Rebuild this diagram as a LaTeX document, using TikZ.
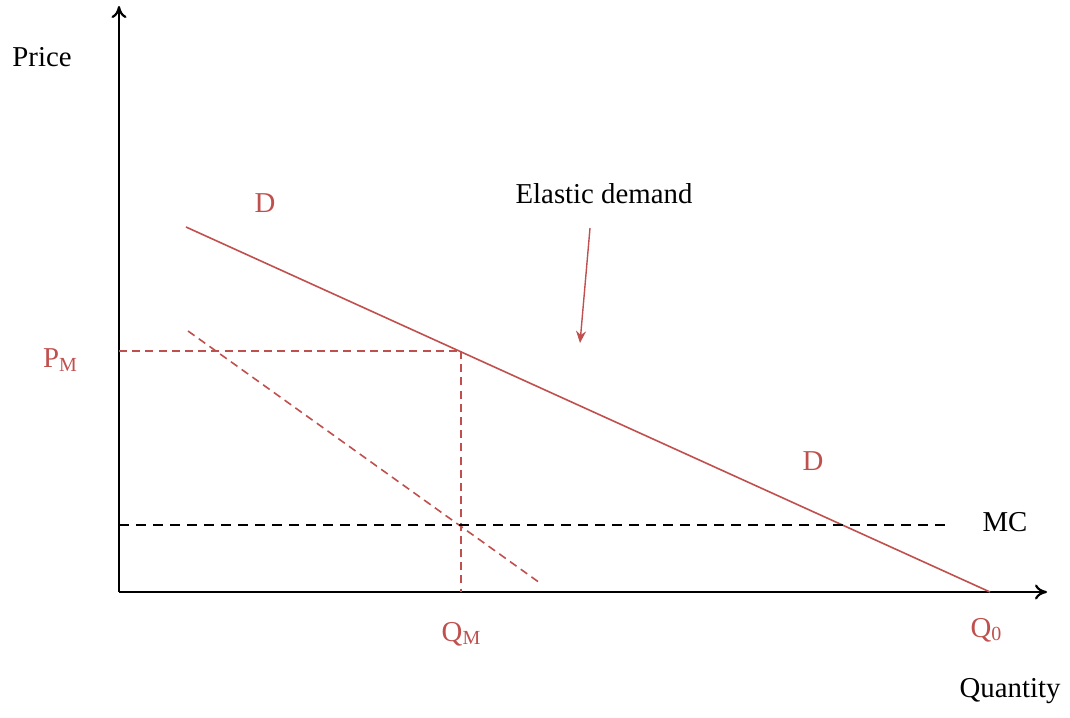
\documentclass[tikz,border=0pt]{standalone}
\usepackage{fontspec}
\setmainfont{Liberation Serif}
\usetikzlibrary{arrows.meta}
\definecolor{dred}{RGB}{192,80,77}
\newcommand{\sbs}[1]{\raisebox{-0.25ex}{\fontsize{10}{10}\selectfont #1}}
\tikzset{
  axis/.style={line width=1.1pt, -{To[length=6pt,width=7.5pt]}},
  lbl/.style={font=\fontsize{14.4}{16}\selectfont, inner sep=0pt},
  rlbl/.style={lbl, text=dred},
  demand/.style={dred, line width=0.8pt},
  rdash/.style={dred, line width=0.8pt, dash pattern=on 4pt off 2.6pt},
  kdash/.style={black, line width=0.9pt, dash pattern=on 5pt off 3.5pt},
}
\begin{document}
\begin{tikzpicture}[x=0.5pt, y=-0.5pt]
\useasboundingbox (0,0) rectangle (1070,717);
% coordinates
\coordinate (O) at (119,592);
\coordinate (Ytop) at (119,6);
\coordinate (Xend) at (1047,592);
\coordinate (D1) at (186,227);
\coordinate (D2) at (990,592);
\coordinate (PMl) at (119,351);
\coordinate (M) at (461,351);
\coordinate (QMb) at (461,592);
\coordinate (MR1) at (188,331);
\coordinate (MR2) at (540,583);
\coordinate (MC1) at (119,525);
\coordinate (MC2) at (950,525);
\coordinate (A1) at (590,228);
\coordinate (A2) at (580,343);
% axes
\draw[axis] (O) -- (Ytop);
\draw[axis] (O) -- (Xend);
% demand
\draw[demand] (D1) -- (D2);
% dashed guides
\draw[rdash] (PMl) -- (M);
\draw[rdash] (M) -- (QMb);
\draw[rdash] (MR1) -- (MR2);
\draw[kdash] (MC1) -- (MC2);
% arrow
\draw[dred, line width=0.7pt, -{Stealth[length=6pt,width=5pt]}] (A1) -- (A2);
% labels
\node[lbl] (price) at (42,57) {Price};
\node[rlbl] (pm) at (60,360) {P\sbs{M}};
\node[rlbl] (qm) at (461,634) {Q\sbs{M}};
\node[rlbl] (q0) at (986,630) {Q\sbs{0}};
\node[lbl] (qty) at (1010,691) {Quantity};
\node[lbl] (mc) at (1005,522) {MC};
\node[rlbl] (d1) at (265,203) {D};
\node[rlbl] (d2) at (813,461) {D};
\node[lbl] (el) at (604,194) {Elastic demand};
\end{tikzpicture}
\end{document}
